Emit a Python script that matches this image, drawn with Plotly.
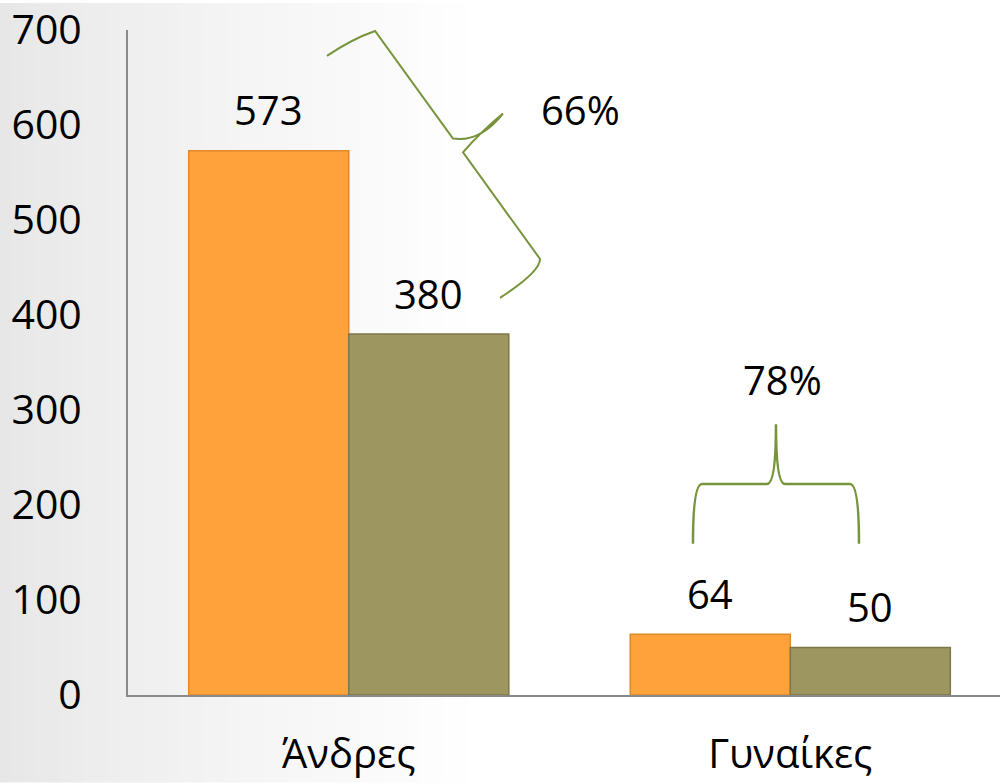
import plotly.graph_objects as go

categories = ["Άνδρες", "Γυναίκες"]
series1 = [573, 64]
series2 = [380, 50]
pct_labels = ["66%", "78%"]
y_ticks = [0, 100, 200, 300, 400, 500, 600, 700]

ORANGE = "#FFA23A"
OLIVE = "#9E9660"
GREEN = "#77933C"
FONT = "Open Sans"

W, H = 1000, 783
ML, MR, MT, MB = 128, 0, 27, 88
PW, PH = W - ML - MR, H - MT - MB


def px(x, y):
    return (x - ML) / PW, (H - MB - y) / PH


def path(points, cmds):
    out = []
    i = 0
    for c in cmds:
        if c in "ML":
            x, y = px(*points[i]); i += 1
            out.append(f"{c}{x:.4f},{y:.4f}")
        elif c == "Q":
            x1, y1 = px(*points[i]); x2, y2 = px(*points[i + 1]); i += 2
            out.append(f"Q{x1:.4f},{y1:.4f} {x2:.4f},{y2:.4f}")
    return " ".join(out)


fig = go.Figure()
fig.add_trace(go.Bar(x=categories, y=series1, marker=dict(color=ORANGE, line=dict(color="#E08A2A", width=1.5)), name="s1"))
fig.add_trace(go.Bar(x=categories, y=series2, marker=dict(color=OLIVE, line=dict(color="#7E7848", width=1.5)), name="s2"))

# value labels
for vals, shift in ((series1, -80), (series2, 80)):
    for c, v in zip(categories, vals):
        fig.add_annotation(x=c, y=v, xshift=shift, yshift=41, text=str(v), showarrow=False,
                           xanchor="center", yanchor="middle",
                           font=dict(size=40, color="black", family=FONT))

# background gradient strips
shapes = []
n = 40
for i in range(n):
    x0 = i * 12
    g = int(0xE7 + (0xFF - 0xE7) * (i / (n - 1)) ** 0.8)
    col = f"rgb({g},{g},{g})"
    a, _ = px(x0, 0)
    b, _ = px(x0 + 12.5, 0)
    shapes.append(dict(type="rect", xref="paper", yref="paper", x0=a, x1=b,
                       y0=-MB / PH, y1=1 + MT / PH, fillcolor=col, line=dict(width=0), layer="below"))

# brace over Andres (rotated)
p1 = [(327, 53), (352, 36), (375, 28), (453, 136), (480, 140), (503, 111),
      (480, 130), (463, 150), (540, 257), (540, 270), (500, 296)]
shapes.append(dict(type="path", xref="paper", yref="paper",
                   path=path(p1, "MQLQQLQ"), line=dict(color=GREEN, width=2)))
# brace over Gynaikes
p2 = [(693, 543), (693, 483), (702, 483), (767, 483), (776, 483), (776, 423),
      (776, 483), (785, 483), (850, 483), (859, 483), (859, 543)]
shapes.append(dict(type="path", xref="paper", yref="paper",
                   path=path(p2, "MQLQQLQ"), line=dict(color=GREEN, width=2.5)))

for txt, (x, y) in zip(pct_labels, [(580, 107), (782, 378)]):
    xp, yp = px(x, y)
    fig.add_annotation(xref="paper", yref="paper", x=xp, y=yp, text=txt, showarrow=False,
                       xanchor="center", yanchor="middle",
                       font=dict(size=40, color="black", family=FONT))

fig.update_layout(
    width=W, height=H,
    margin=dict(l=ML, r=MR, t=MT, b=MB, pad=0),
    paper_bgcolor="white", plot_bgcolor="rgba(0,0,0,0)",
    barmode="group", bargap=0.275, bargroupgap=0,
    showlegend=False,
    shapes=shapes,
    font=dict(family=FONT, size=40, color="black"),
    xaxis=dict(range=[-0.5, 1.475], showline=True, linecolor="#8A8A8A", linewidth=2,
               showgrid=False, ticks="", tickfont=dict(size=40), ticklabelstandoff=23, fixedrange=True),
    yaxis=dict(range=[0, 700], tickvals=y_ticks, showline=True, linecolor="#8A8A8A", linewidth=2,
               showgrid=False, zeroline=False, ticks="", tickfont=dict(size=41), ticklabelstandoff=36,
               ticklabeloverflow="allow", fixedrange=True),
)

fig.write_html("out.html", config={"displayModeBar": False},
               post_script="document.body.style.margin='0';document.body.style.overflow='hidden';")
